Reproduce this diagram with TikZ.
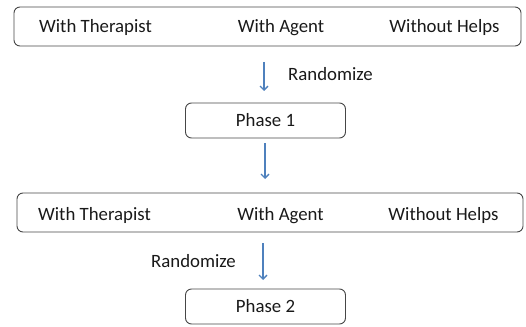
\documentclass[tikz,border=0pt]{standalone}
\usepackage{fontspec}
\setmainfont{Carlito}
\usetikzlibrary{arrows.meta}
\definecolor{arrowblue}{RGB}{79,129,189}
\definecolor{boxline}{RGB}{70,70,70}
\tikzset{
  x=1pt, y=-1pt,
  groupbox/.style={draw=boxline, line width=0.9pt, rounded corners=6pt, minimum height=39pt, inner sep=0pt},
  phasebox/.style={draw=boxline, line width=0.9pt, rounded corners=6pt, minimum width=160pt, minimum height=35pt, inner sep=0pt},
  lbl/.style={font=\fontsize{18.8}{21}\selectfont, text=black!90, inner sep=0pt},
  flow/.style={draw=arrowblue, line width=1.3pt, -{Straight Barb[length=4pt,width=8pt]}}
}
\begin{document}
\begin{tikzpicture}
\useasboundingbox (0,0) rectangle (526,326);
\node[groupbox, minimum width=507pt] (top) at (267.5,26.5) {};
\node[lbl, anchor=base] (t1) at (95.5,33) {With Therapist};
\node[lbl, anchor=base] (t2) at (281,33) {With Agent};
\node[lbl, anchor=base] (t3) at (444.5,33) {Without Helps};
\node[phasebox] (p1) at (265.5,120.5) {};
\node[lbl, anchor=base] (p1t) at (265.5,126) {Phase 1};
\node[groupbox, minimum width=506pt] (mid) at (270,212.5) {};
\node[lbl, anchor=base] (m1) at (94.5,220) {With Therapist};
\node[lbl, anchor=base] (m2) at (280.5,220) {With Agent};
\node[lbl, anchor=base] (m3) at (443.5,220) {Without Helps};
\node[phasebox] (p2) at (265.5,306.5) {};
\node[lbl, anchor=base] (p2t) at (265.5,312.5) {Phase 2};
\coordinate (a1s) at (264,62);
\coordinate (a1e) at (264,91);
\draw[flow] (a1s) -- (a1e);
\node[lbl, anchor=base west] (r1) at (288,81) {Randomize};
\coordinate (a2s) at (265,143);
\coordinate (a2e) at (265,179);
\draw[flow] (a2s) -- (a2e);
\coordinate (a3s) at (263,243);
\coordinate (a3e) at (263,280);
\draw[flow] (a3s) -- (a3e);
\node[lbl, anchor=base east] (r2) at (236,267) {Randomize};
\end{tikzpicture}
\end{document}
